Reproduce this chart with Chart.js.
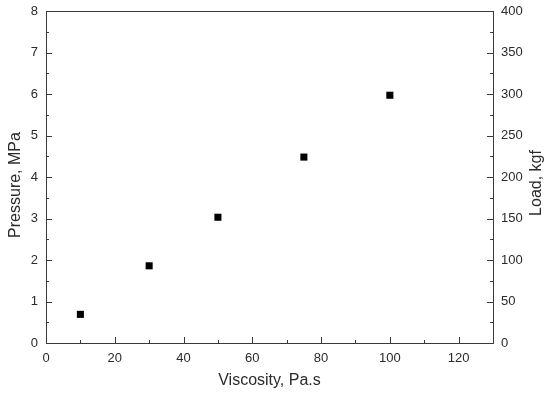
<!DOCTYPE html>
<html>
<head>
<meta charset="utf-8">
<script src="https://cdn.jsdelivr.net/npm/chart.js@4.4.1/dist/chart.umd.min.js"></script>
<style>
  html, body { margin: 0; padding: 0; background: #fff; }
  #wrap { width: 549px; height: 396px; }
</style>
</head>
<body>
<div id="wrap"><canvas id="chart"></canvas></div>
<script>
// data
var viscosity = [10, 30, 50, 75, 100];
var pressure = [0.69, 1.86, 3.03, 4.48, 5.97];

var xTitle = "Viscosity, Pa.s";
var yTitle = "Pressure, MPa";
var y2Title = "Load, kgf";

var xRange = [0, 130], xStep = 20;
var yRange = [0, 8], yStep = 1;
var y2Range = [0, 400], y2Step = 50;

var axisColor = "#3a3a3a";
var textColor = "#2b2b2b";

function onlySteps(step) {
    return function(scale) {
        scale.ticks = scale.ticks.filter(function(t) {
            return t.value % step === 0;
        });
    };
}

function fixWidth(w) {
    return function(s) {
        s.width = w;
        s.paddingTop = 0;
        s.paddingBottom = 0;
    };
}

// frame + inward ticks + axis titles
var framePlugin = {
    id: "frame",
    afterDraw: function(chart) {
        var ctx = chart.ctx;
        var a = chart.chartArea;
        var sx = chart.scales.x, sy = chart.scales.y, sy2 = chart.scales.y2;
        ctx.save();
        ctx.strokeStyle = axisColor;
        ctx.lineWidth = 1;
        ctx.strokeRect(Math.round(a.left) + 0.5, Math.round(a.top) + 0.5,
            Math.round(a.right - a.left), Math.round(a.bottom - a.top));

        ctx.beginPath();
        // bottom ticks
        for (var v = xRange[0]; v < xRange[1]; v += xStep / 2) {
            var px = Math.round(sx.getPixelForValue(v)) + 0.5;
            var len = (v % xStep === 0) ? 6 : 3;
            ctx.moveTo(px, a.bottom);
            ctx.lineTo(px, a.bottom - len);
        }
        // left ticks
        for (var v = yRange[0]; v < yRange[1]; v += yStep / 2) {
            var py = Math.round(sy.getPixelForValue(v)) + 0.5;
            var len = (v % yStep === 0) ? 6 : 3;
            ctx.moveTo(a.left, py);
            ctx.lineTo(a.left + len, py);
        }
        // right ticks
        for (var v = y2Range[0]; v < y2Range[1]; v += y2Step / 2) {
            var py = Math.round(sy2.getPixelForValue(v)) + 0.5;
            var len = (v % y2Step === 0) ? 6 : 3;
            ctx.moveTo(a.right, py);
            ctx.lineTo(a.right - len, py);
        }
        ctx.stroke();

        ctx.fillStyle = textColor;
        ctx.font = "16px 'Liberation Sans', Arial, sans-serif";
        ctx.textAlign = "center";
        ctx.textBaseline = "middle";
        ctx.fillText(xTitle, (a.left + a.right) / 2, 381);

        ctx.save();
        ctx.translate(16, 185);
        ctx.rotate(-Math.PI / 2);
        ctx.fillText(yTitle, 0, 0);
        ctx.restore();

        ctx.save();
        ctx.translate(537, 183);
        ctx.rotate(-Math.PI / 2);
        ctx.fillText(y2Title, 0, 0);
        ctx.restore();
        ctx.restore();
    }
};

var points = viscosity.map(function(v, i) {
    return { x: v, y: pressure[i] };
});

var tickFont = { family: "'Liberation Sans', Arial, sans-serif", size: 13 };
var noGrid = { display: false, drawTicks: false, tickLength: 0 };

new Chart(document.getElementById("chart"), {
    type: "scatter",
    data: {
        datasets: [{
            data: points,
            pointStyle: "rect",
            pointRadius: 5,
            pointHoverRadius: 5,
            backgroundColor: "#000",
            borderColor: "#000",
            borderWidth: 0,
            yAxisID: "y"
        }]
    },
    options: {
        responsive: true,
        maintainAspectRatio: false,
        animation: false,
        layout: { padding: { top: 11, left: 0, right: 0, bottom: 0 } },
        plugins: {
            legend: { display: false },
            tooltip: { enabled: false }
        },
        scales: {
            x: {
                type: "linear",
                min: xRange[0],
                max: xRange[1],
                grid: noGrid,
                border: { display: false },
                ticks: { stepSize: xStep, color: textColor, font: tickFont, padding: 8, maxRotation: 0 },
                afterBuildTicks: onlySteps(xStep),
                afterFit: function(s) { s.height = 53; s.paddingLeft = 0; s.paddingRight = 0; }
            },
            y: {
                position: "left",
                min: yRange[0],
                max: yRange[1],
                grid: noGrid,
                border: { display: false },
                ticks: { stepSize: yStep, color: textColor, font: tickFont, padding: 8 },
                afterFit: fixWidth(46)
            },
            y2: {
                position: "right",
                min: y2Range[0],
                max: y2Range[1],
                grid: noGrid,
                border: { display: false },
                ticks: { stepSize: y2Step, color: textColor, font: tickFont, padding: 8 },
                afterFit: fixWidth(56)
            }
        }
    },
    plugins: [framePlugin]
});
</script>
</body>
</html>
